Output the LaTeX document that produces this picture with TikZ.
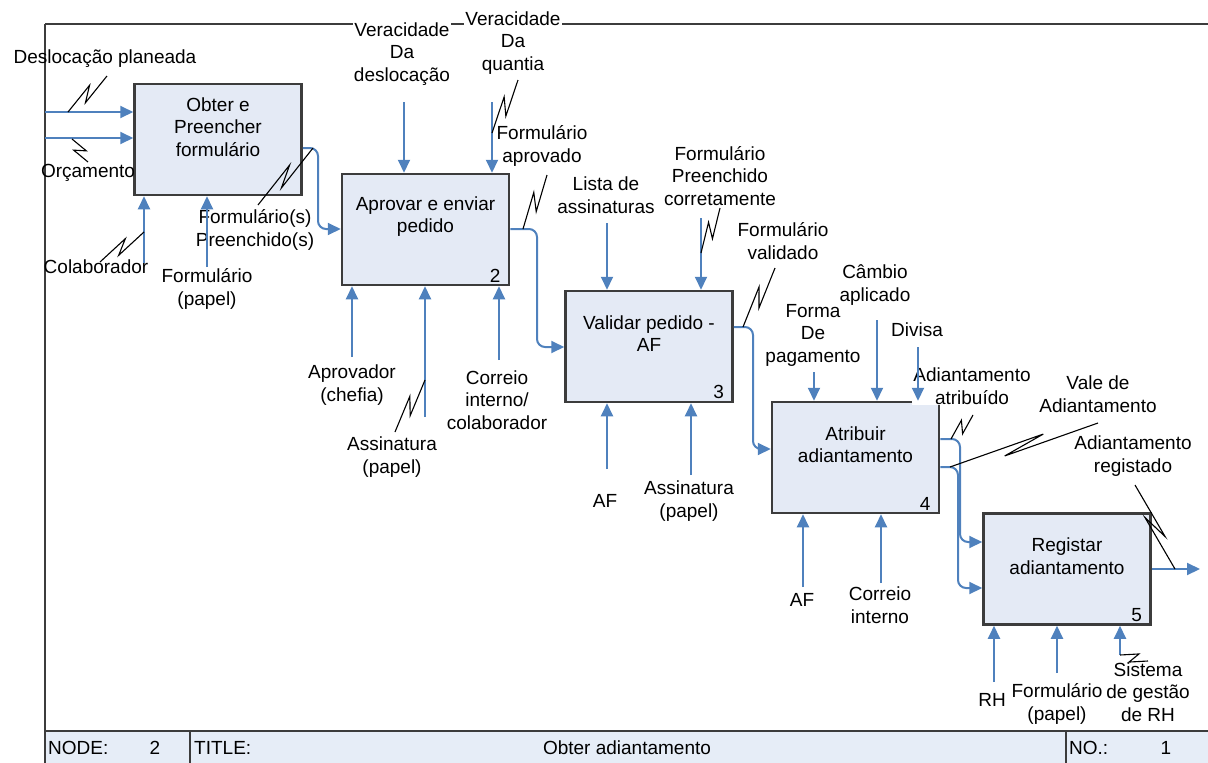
\documentclass[tikz,border=0pt]{standalone}
\usepackage{fontspec}
\setmainfont{Liberation Sans}
\usetikzlibrary{arrows.meta,calc}
\definecolor{flowblue}{RGB}{79,129,189}
\definecolor{boxfill}{RGB}{228,234,245}
\definecolor{barfill}{RGB}{230,237,247}
\definecolor{edge}{RGB}{60,60,60}

\begin{document}
\begin{tikzpicture}[x=1pt,y=-1pt,
  font=\fontsize{19}{22.5}\selectfont,
  act/.style={draw=edge, line width=2.5pt, fill=boxfill,
    minimum width=167pt, minimum height=111pt, inner sep=0pt},
  acttext/.style={align=center, inner sep=0pt},
  actno/.style={anchor=south east, inner sep=0pt},
  lbl/.style={align=center, inner sep=1pt},
  whitelbl/.style={lbl, fill=white},
  flow/.style={draw=flowblue, line width=2pt,
    -{Triangle[length=13pt,width=12pt]}},
  bendflow/.style={flow, rounded corners=8pt},
  frameline/.style={draw=edge, line width=2pt},
  squig/.style={draw=black, line width=1.1pt,
    to path={-- ($(\tikztostart)!0.64!(\tikztotarget)!5pt!90:(\tikztotarget)$)
             -- ($(\tikztostart)!0.36!(\tikztotarget)!5pt!-90:(\tikztotarget)$)
             -- (\tikztotarget)}},
  bartext/.style={inner sep=0pt, anchor=west}]

\useasboundingbox (0,0) rectangle (1208,763);

% drawing frame and title bar
\fill[barfill] (45,731) rectangle (1210,765);
\draw[frameline] (45,24) -- (1210,24);
\draw[frameline] (45,24) -- (45,765);
\draw[frameline] (45,731) -- (1210,731);
\draw[frameline] (190,731) -- (190,765);
\draw[frameline] (1066,731) -- (1066,765);
\node[bartext] (nodelbl) at (48,748) {NODE:};
\node[inner sep=0pt] (nodeno) at (155,748) {2};
\node[bartext] (titlelbl) at (194,748) {TITLE:};
\node[inner sep=0pt] (title) at (627,748) {Obter adiantamento};
\node[bartext] (nolbl) at (1069,748) {NO.:};
\node[inner sep=0pt] (noval) at (1166,748) {1};

% activities
\node[act] (b1) at (218,139.5) {};
\node[act] (b2) at (425.5,229.5) {};
\node[act] (b3) at (649,346.5) {};
\node[act] (b4) at (855.5,457.5) {};
\node[act] (b5) at (1067,569) {};

\node[acttext] (t1) at ($(b1.north)+(0,44)$) {Obter e\\Preencher\\formulário};
\node[acttext] (t2) at ($(b2.north)+(0,44)$) {Aprovar e enviar\\pedido};
\node[acttext] (t3) at ($(b3.north)+(0,44)$) {Validar pedido -\\AF};
\node[acttext] (t4) at ($(b4.north)+(0,44)$) {Atribuir\\adiantamento};
\node[acttext] (t5) at ($(b5.north)+(0,44)$) {Registar\\adiantamento};

\node[actno] (n2) at ($(b2.south east)+(-9.5,-4)$) {2};
\node[actno] (n3) at ($(b3.south east)+(-9.5,-4)$) {3};
\node[actno] (n4) at ($(b4.south east)+(-9.5,-4)$) {4};
\node[actno] (n5) at ($(b5.south east)+(-9.5,-4)$) {5};

% labels
\node[lbl] (lDesl) at (105,59) {Deslocação planeada};
\node[lbl] (lOrc) at (88,173) {Orçamento};
\node[lbl] (lColab) at (96,267) {Colaborador};
\node[lbl] (lForm1) at (207,289) {Formulário\\(papel)};
\node[lbl] (lPreen) at (255,230) {Formulário(s)\\Preenchido(s)};
\node[whitelbl] (lVerD) at (402,54) {Veracidade\\Da\\deslocação};
\node[whitelbl] (lVerQ) at (513,43) {Veracidade\\Da\\quantia};
\node[lbl] (lAprov) at (542,146) {Formulário\\aprovado};
\node[lbl] (lChef) at (352,385) {Aprovador\\(chefia)};
\node[lbl] (lAss2) at (392,457) {Assinatura\\(papel)};
\node[lbl] (lCorr2) at (497,400) {Correio\\interno/\\colaborador};
\node[lbl] (lLista) at (606,195) {Lista de\\assinaturas};
\node[lbl] (lCorret) at (720,176) {Formulário\\Preenchido\\corretamente};
\node[lbl] (lValid) at (783,241) {Formulário\\validado};
\node[lbl] (lAF3) at (605,501) {AF};
\node[lbl] (lAss3) at (689,501) {Assinatura\\(papel)};
\node[lbl] (lForma) at (813,335) {Forma\\De\\pagamento};
\node[lbl] (lCamb) at (875,285) {Câmbio\\aplicado};
\node[lbl] (lDiv) at (917,330) {Divisa};
\node[whitelbl] (lAtr) at (972,386) {Adiantamento\\atribuído};
\node[lbl] (lVale) at (1098,394) {Vale de\\Adiantamento};
\node[lbl] (lReg) at (1133,456) {Adiantamento\\registado};
\node[lbl] (lAF4) at (802,600) {AF};
\node[lbl] (lCorr4) at (880,605) {Correio\\interno};
\node[lbl] (lRH) at (992,700) {RH};
\node[lbl] (lForm5) at (1057,704) {Formulário\\(papel)};
\node[lbl] (lSist) at (1148,692) {Sistema\\de gestão\\de RH};

% inputs from the frame
\coordinate (i1) at (45,112);
\coordinate (i2) at (45,138);
\draw[flow] (i1) -- (i1 -| b1.west);
\draw[flow] (i2) -- (i2 -| b1.west);

% controls
\coordinate (c21) at (404,102);
\coordinate (c22) at (492,102);
\coordinate (c31) at (607,223);
\coordinate (c32) at (701,218);
\coordinate (c41) at (814,372);
\coordinate (c42) at (877,320);
\coordinate (c43) at (918,347);
\foreach \c/\b in {c21/b2,c22/b2,c31/b3,c32/b3,c41/b4,c42/b4,c43/b4}
  \draw[flow] (\c) -- (\c |- \b.north);

% mechanisms
\coordinate (m11) at (144,263);
\coordinate (m12) at (207,267);
\coordinate (m21) at (352,357);
\coordinate (m22) at (425,417);
\coordinate (m23) at (499,360);
\coordinate (m31) at (607,469);
\coordinate (m32) at (691,475);
\coordinate (m41) at (803,587);
\coordinate (m42) at (881,583);
\coordinate (m51) at (994,682);
\coordinate (m52) at (1057,673);
\coordinate (m53) at (1120,655);
\foreach \m/\b in {m11/b1,m12/b1,m21/b2,m22/b2,m23/b2,m31/b3,m32/b3,m41/b4,m42/b4,m51/b5,m52/b5,m53/b5}
  \draw[flow] (\m) -- (\m |- \b.south);

% outputs between activities
\draw[bendflow] (b1.east |- 0,148) -- (318,148) -- (318,229) -- (b2.west |- 0,229);
\draw[bendflow] (b2.east |- 0,229) -- (537,229) -- (537,347) -- (b3.west |- 0,347);
\draw[bendflow] (b3.east |- 0,327) -- (753,327) -- (753,449) -- (b4.west |- 0,449);
\draw[bendflow] (b4.east |- 0,439) -- (960,439) -- (960,542) -- (b5.west |- 0,542);
\draw[bendflow] (b4.east |- 0,467) -- (958,467) -- (958,588) -- (b5.west |- 0,588);
\coordinate (o5) at (1200,569);
\draw[flow] (b5.east |- o5) -- (o5);

% squiggles tying labels to their arrows
\coordinate (sDeslA) at (107,76);   \coordinate (sDeslB) at (68,112);
\coordinate (sOrcA) at (72,139);    \coordinate (sOrcB) at (88,162);
\coordinate (sColA) at (100,262);   \coordinate (sColB) at (144,232);
\coordinate (sPreA) at (258,205);   \coordinate (sPreB) at (313,148);
\coordinate (sQuaA) at (518,80);    \coordinate (sQuaB) at (492,133);
\coordinate (sAprA) at (547,175);   \coordinate (sAprB) at (523,229);
\coordinate (sAssA) at (395,432);   \coordinate (sAssB) at (425,380);
\coordinate (sCorA) at (720,208);   \coordinate (sCorB) at (701,253);
\coordinate (sValA) at (775,268);   \coordinate (sValB) at (743,327);
\coordinate (sAtrA) at (973,415);   \coordinate (sAtrB) at (951,439);
\coordinate (sVaA) at (1098,423);   \coordinate (sVaB) at (950,467);
\coordinate (sRegA) at (1135,485);  \coordinate (sRegB) at (1175,569);
\coordinate (sSisB) at (1148,661);
\draw[squig] (sDeslA) to (sDeslB);
\draw[squig] (sOrcA) to (sOrcB);
\draw[squig] (sColA) to (sColB);
\draw[squig] (sPreA) to (sPreB);
\draw[squig] (sQuaA) to (sQuaB);
\draw[squig] (sAprA) to (sAprB);
\draw[squig] (sAssA) to (sAssB);
\draw[squig] (sCorA) to (sCorB);
\draw[squig] (sValA) to (sValB);
\draw[squig] (sAtrA) to (sAtrB);
\draw[squig] (sVaA) to (sVaB);
\draw[squig] (sRegA) to (sRegB);
\draw[squig] (m53) to (sSisB);
\end{tikzpicture}
\end{document}
